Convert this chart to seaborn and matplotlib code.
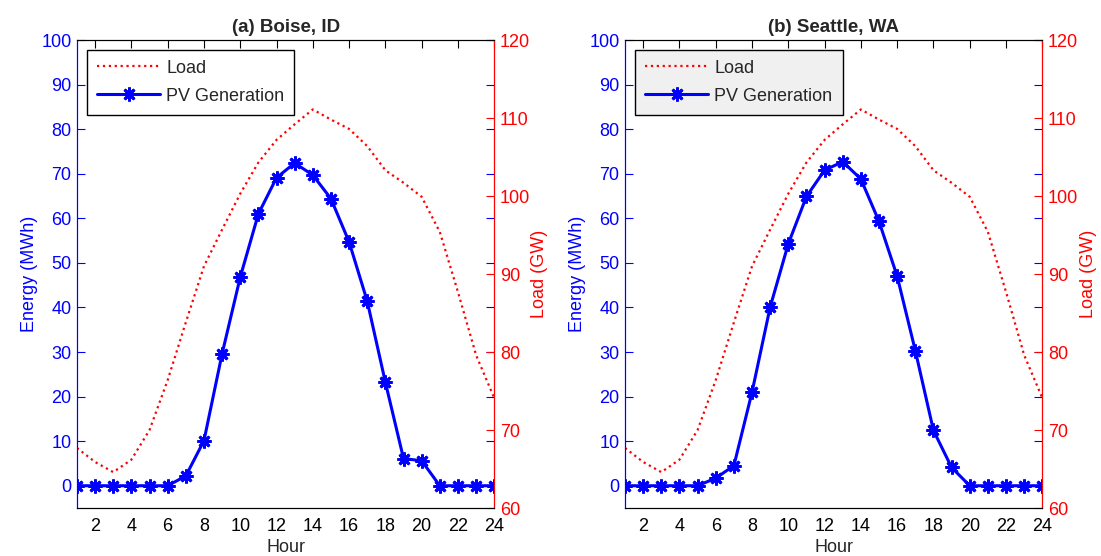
import pandas as pd
import seaborn as sns
import matplotlib.pyplot as plt
from matplotlib.lines import Line2D

hours = list(range(1, 25))

# hourly load (GW), same curve in both panels
load = [67.7, 65.9, 64.6, 66.2, 70.0, 76.4, 83.8, 91.0, 95.7, 100.3,
        104.3, 107.2, 109.2, 111.1, 109.8, 108.6, 106.4, 103.3, 101.7, 99.9,
        95.4, 87.7, 79.6, 74.1]

# PV generation (MWh)
pv_boise = [0, 0, 0, 0, 0, 0, 2.2, 10.1, 29.6, 46.8,
            61.0, 69.1, 72.4, 69.7, 64.4, 54.7, 41.4, 23.2, 6.1, 5.6,
            0, 0, 0, 0]
pv_seattle = [0, 0, 0, 0, 0, 1.7, 4.5, 21.0, 40.1, 54.3,
              64.9, 70.8, 72.7, 68.8, 59.3, 47.0, 30.3, 12.4, 4.1, 0,
              0, 0, 0, 0]

titles = ['(a) Boise, ID', '(b) Seattle, WA']
pv_series = [pv_boise, pv_seattle]
legend_bg = ['white', '#f0f0f0']

sns.set_style('white')
plt.rcParams['font.family'] = ['Liberation Sans', 'DejaVu Sans']
fs = 13

fig = plt.figure(figsize=(11.01, 5.56), dpi=100)
lefts = [0.0699, 0.5677]

for i in range(2):
    ax = fig.add_axes([lefts[i], 0.0863, 0.379, 0.8417])
    ax2 = ax.twinx()
    df = pd.DataFrame({'Hour': hours, 'Load': load, 'PV': pv_series[i]})

    sns.lineplot(data=df, x='Hour', y='PV', ax=ax, color='blue', linewidth=2.2,
                 marker=(8, 2, 0), markersize=10, markeredgewidth=2,
                 markeredgecolor='blue')
    sns.lineplot(data=df, x='Hour', y='Load', ax=ax2, color='red',
                 linestyle=':', linewidth=1.6)

    ax.set_xlim(1, 24)
    ax.set_ylim(-5, 100)
    ax2.set_ylim(60, 120)
    ax.set_xticks(range(2, 25, 2))
    ax.set_yticks(range(0, 101, 10))
    ax2.set_yticks(range(60, 121, 10))

    ax.tick_params(axis='y', colors='blue', direction='in', right=True, length=6,
                   labelsize=fs, pad=4)
    ax.tick_params(axis='x', colors='black', direction='in', top=True, length=6,
                   labelsize=fs, pad=7)
    ax2.tick_params(axis='y', colors='red', direction='in', length=6, labelsize=fs, pad=4)

    ax.spines['left'].set_color('blue')
    ax2.spines['left'].set_color('blue')
    ax2.spines['right'].set_color('red')
    for s in ['top', 'bottom']:
        ax.spines[s].set_color('black')
        ax2.spines[s].set_color('black')

    ax.set_xlabel('Hour', fontsize=fs, labelpad=3)
    ax.set_ylabel('Energy (MWh)', color='blue', fontsize=fs, labelpad=2)
    ax2.set_ylabel('Load (GW)', color='red', fontsize=fs, labelpad=1)
    ax.set_title(titles[i], fontweight='bold', fontsize=13.5, pad=6)

    handles = [Line2D([], [], color='red', linestyle=':', linewidth=1.6),
               Line2D([], [], color='blue', linewidth=2.2, marker=(8, 2, 0),
                      markersize=10, markeredgewidth=2)]
    leg = ax2.legend(handles, ['Load', 'PV Generation'], loc='upper left',
                     bbox_to_anchor=(0.024, 0.979), borderaxespad=0,
                     fancybox=False, edgecolor='black', framealpha=1,
                     fontsize=fs, handlelength=3.5, handletextpad=0.35,
                     borderpad=0.55, labelspacing=0.6)
    leg.get_frame().set_facecolor(legend_bg[i])
    leg.get_frame().set_linewidth(1.0)

plt.savefig('out.png', dpi=100)
